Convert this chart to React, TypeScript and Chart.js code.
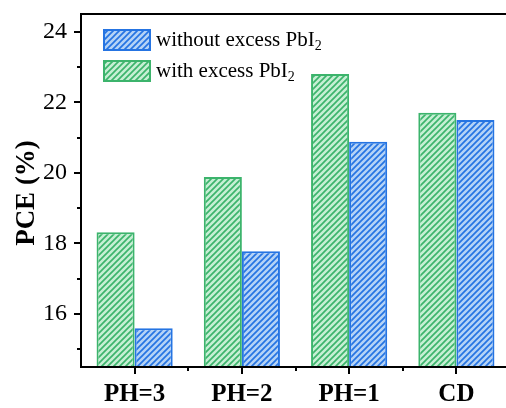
import React, { useEffect, useRef } from 'react';
import { Chart, registerables } from 'chart.js';

Chart.register(...registerables);

const categories = ['PH=3', 'PH=2', 'PH=1', 'CD'];
const withExcess = [18.32, 19.88, 22.8, 21.7];
const withoutExcess = [15.6, 17.78, 20.88, 21.5];
const yMajorTicks = [16, 18, 20, 22, 24];
const yMinorTicks = [15, 17, 19, 21, 23];
const legendLabels = ['without excess PbI', 'with excess PbI'];
const legendSub = '2';
const yTitle = 'PCE (%)';

const GREEN = '#3cb46c';
const GREEN_BG = '#c6efd4';
const BLUE = '#2574e2';
const BLUE_BG = '#b4d3f6';
const SERIF = '"Liberation Serif", "Times New Roman", serif';

function makePattern(bg: string, line: string): CanvasPattern | string {
  const s = 6;
  const c = document.createElement('canvas');
  c.width = s;
  c.height = s;
  const g = c.getContext('2d');
  if (!g) return bg;
  g.fillStyle = bg;
  g.fillRect(0, 0, s, s);
  g.strokeStyle = line;
  g.lineWidth = 1.7;
  g.beginPath();
  g.moveTo(-1, s + 1);
  g.lineTo(s + 1, -1);
  g.moveTo(-1, 1);
  g.lineTo(1, -1);
  g.moveTo(s - 1, s + 1);
  g.lineTo(s + 1, s - 1);
  g.stroke();
  return g.createPattern(c, 'repeat') || bg;
}

const decoPlugin = {
  id: 'deco',
  afterDatasetsDraw(chart: any) {
    const { ctx, chartArea: a, scales } = chart;
    const x = scales.x;
    const y = scales.y;
    ctx.save();
    ctx.strokeStyle = '#000';
    ctx.lineWidth = 2;
    ctx.beginPath();
    ctx.moveTo(a.left - 1, a.top);
    ctx.lineTo(a.right, a.top);
    ctx.moveTo(a.left, a.top);
    ctx.lineTo(a.left, a.bottom);
    ctx.moveTo(a.left - 1, a.bottom);
    ctx.lineTo(a.right, a.bottom);
    // y ticks
    yMajorTicks.forEach((v) => {
      const py = Math.round(y.getPixelForValue(v));
      ctx.moveTo(a.left - 7, py);
      ctx.lineTo(a.left, py);
    });
    yMinorTicks.forEach((v) => {
      const py = Math.round(y.getPixelForValue(v));
      ctx.moveTo(a.left - 4, py);
      ctx.lineTo(a.left, py);
    });
    // x ticks
    categories.forEach((_, i) => {
      const px = Math.round(x.getPixelForValue(i));
      ctx.moveTo(px, a.bottom);
      ctx.lineTo(px, a.bottom + 7);
      if (i < categories.length - 1) {
        const mx = Math.round(x.getPixelForValue(i + 0.5));
        ctx.moveTo(mx, a.bottom);
        ctx.lineTo(mx, a.bottom + 4);
      }
    });
    ctx.stroke();

    // legend
    const ds = chart.data.datasets;
    const entries = [ds[1], ds[0]];
    entries.forEach((d: any, i: number) => {
      const bx = a.left + 22;
      const by = a.top + 15 + i * 31;
      const bw = 48;
      const bh = 22;
      ctx.fillStyle = d.backgroundColor;
      ctx.fillRect(bx, by, bw, bh);
      ctx.strokeStyle = d.borderColor;
      ctx.lineWidth = 2;
      ctx.strokeRect(bx + 1, by + 1, bw - 2, bh - 2);
      ctx.fillStyle = '#000';
      ctx.textBaseline = 'middle';
      ctx.textAlign = 'left';
      ctx.font = `21px ${SERIF}`;
      const tx = bx + bw + 5;
      const ty = by + bh / 2;
      const label = legendLabels[i];
      ctx.fillText(label, tx, ty);
      const w = ctx.measureText(label).width;
      ctx.font = `14px ${SERIF}`;
      ctx.fillText(legendSub, tx + w, ty + 6);
    });

    // y title
    ctx.save();
    ctx.translate(34, 193);
    ctx.rotate(-Math.PI / 2);
    ctx.fillStyle = '#000';
    ctx.font = `bold 27px ${SERIF}`;
    ctx.textAlign = 'center';
    ctx.textBaseline = 'alphabetic';
    ctx.fillText(yTitle, 0, 0);
    ctx.restore();

    ctx.restore();
  },
};

export default function App() {
  const ref = useRef<HTMLCanvasElement | null>(null);

  useEffect(() => {
    document.body.style.margin = '0';
    document.body.style.overflow = 'hidden';
    const canvas = ref.current;
    if (!canvas) return;
    const greenPat = makePattern(GREEN_BG, GREEN);
    const bluePat = makePattern(BLUE_BG, BLUE);
    const chart = new Chart(canvas, {
      type: 'bar',
      data: {
        labels: categories,
        datasets: [
          {
            label: 'with excess PbI2',
            data: withExcess,
            backgroundColor: greenPat as any,
            borderColor: GREEN,
            borderWidth: 2,
            categoryPercentage: 0.71,
            barPercentage: 1,
          },
          {
            label: 'without excess PbI2',
            data: withoutExcess,
            backgroundColor: bluePat as any,
            borderColor: BLUE,
            borderWidth: 2,
            categoryPercentage: 0.71,
            barPercentage: 1,
          },
        ],
      },
      options: {
        responsive: false,
        animation: false,
        devicePixelRatio: 1,
        layout: { padding: { top: 14, right: 0, bottom: 0, left: 0 } },
        plugins: {
          legend: { display: false },
          tooltip: { enabled: false },
          title: { display: false },
        },
        scales: {
          x: {
            grid: { display: false },
            border: { display: false },
            ticks: {
              color: '#000',
              padding: 5,
              font: { family: SERIF, size: 25, weight: 'bold' },
            },
            afterFit: (s: any) => {
              s.height = 41;
              s.paddingLeft = 0;
              s.paddingRight = 0;
            },
          },
          y: {
            min: 14.5,
            max: 24.5,
            grid: { display: false },
            border: { display: false },
            afterBuildTicks: (s: any) => {
              s.ticks = yMajorTicks.map((v) => ({ value: v }));
            },
            ticks: {
              color: '#000',
              padding: 6,
              font: { family: SERIF, size: 24 },
            },
            afterFit: (s: any) => {
              s.width = 81;
              s.paddingTop = 0;
              s.paddingBottom = 0;
            },
          },
        },
      },
      plugins: [decoPlugin],
    });
    return () => chart.destroy();
  }, []);

  return (
    <div style={{ width: 506, height: 408, overflow: 'hidden', background: '#fff' }}>
      <canvas ref={ref} width={510} height={408} style={{ width: 510, height: 408, display: 'block' }} />
    </div>
  );
}
